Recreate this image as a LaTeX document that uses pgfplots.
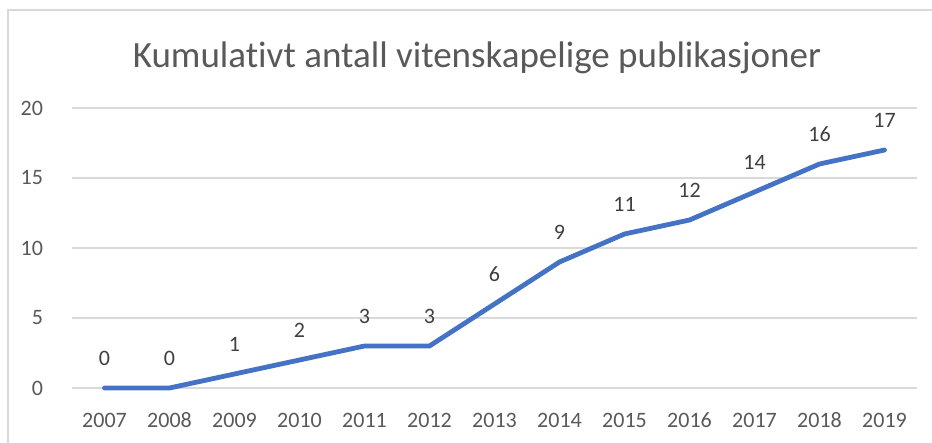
\documentclass[border=0pt]{standalone}
\usepackage{fontspec}
\setmainfont{Carlito}[Ligatures=NoCommon]
\usepackage{pgfplots}
\pgfplotsset{compat=1.18}
\definecolor{xlblue}{HTML}{4472C4}
\definecolor{xlgrid}{HTML}{D9D9D9}
\definecolor{xltext}{HTML}{595959}
\definecolor{xllabel}{HTML}{404040}
\begin{document}
\begin{tikzpicture}
\useasboundingbox[fill=white] (0,0) rectangle (466pt,221.5pt);
\draw[xlgrid, line width=0.75pt] (4pt,0) -- (4pt,216.5pt) -- (470pt,216.5pt);
\begin{axis}[
  at={(36pt,27.5pt)}, anchor=south west,
  scale only axis, width=422.5pt, height=140pt,
  xmin=-0.5, xmax=12.5, ymin=0, ymax=20,
  xtick={0,...,12},
  xticklabels={2007,2008,2009,2010,2011,2012,2013,2014,2015,2016,2017,2018,2019},
  ytick={0,5,10,15,20},
  ymajorgrids, grid style={xlgrid, line width=0.75pt},
  axis line style={draw=none},
  major tick length=0pt,
  /pgf/number format/assume math mode=true,
  tick label style={font=\fontsize{11}{13}\selectfont, text=xltext},
  xticklabel style={anchor=center, yshift=-16pt},
  yticklabel style={anchor=east, xshift=-11pt},
  clip=false,
  nodes near coords,
  every node near coord/.append style={font=\fontsize{11}{13}\selectfont, text=xllabel, anchor=center, yshift=15pt},
]
\addplot[xlblue, line width=2.4pt, line cap=round, line join=round, mark=none] coordinates {
(0,0)(1,0)(2,1)(3,2)(4,3)(5,3)(6,6)(7,9)(8,11)(9,12)(10,14)(11,16)(12,17)};
\end{axis}
\node[font=\fontsize{18.5}{22}\selectfont, text=xltext] at (238.5pt,192.5pt) {Kumulativt antall vitenskapelige publikasjoner};
\end{tikzpicture}
\end{document}
